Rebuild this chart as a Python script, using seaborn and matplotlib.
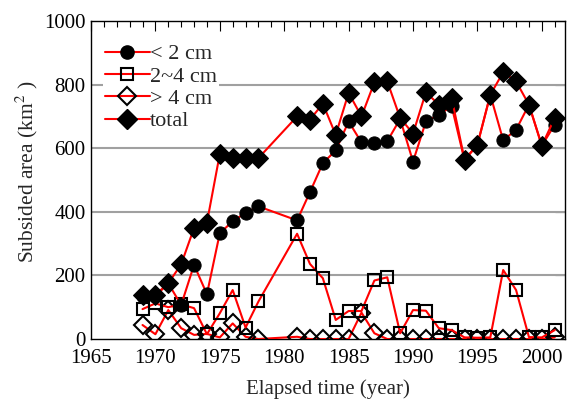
import numpy as np
import pandas as pd
import matplotlib
matplotlib.use("Agg")
import matplotlib.pyplot as plt
import seaborn as sns
from matplotlib.lines import Line2D

years = [1969, 1970, 1971, 1972, 1973, 1974, 1975, 1976, 1977, 1978,
         1981, 1982, 1983, 1984, 1985, 1986, 1987, 1988, 1989, 1990,
         1991, 1992, 1993, 1994, 1995, 1996, 1997, 1998, 1999, 2000, 2001]
lt2 = [135, 135, 175, 107, 233, 141, 333, 370, 397, 417,
       373, 462, 553, 593, 684, 618, 615, 622, 692, 558,
       684, 705, 732, 562, 611, 768, 625, 658, 737, 608, 674]
b2to4 = [94, 112, 100, 109, 97, 15, 81, 154, 36, 118,
         331, 236, 191, 60, 88, 88, 184, 194, 18, 91,
         89, 34, 28, 5, 4, 5, 217, 154, 6, 5, 28]
gt4 = [44, 15, 91, 34, 13, 16, 5, 49, 7, 0,
       7, 0, 0, 0, 0, 83, 18, 0, 0, 0,
       0, 0, 0, 0, 0, 0, 0, 0, 0, 0, 5]
total = [139, 139, 175, 235, 349, 366, 582, 569, 569, 569,
         700, 690, 740, 642, 774, 700, 807, 810, 695, 646,
         776, 737, 758, 564, 611, 768, 839, 810, 737, 608, 695]
series_names = ["< 2 cm", "2~4 cm", "> 4 cm", "total"]
yticks = [0, 200, 400, 600, 800, 1000]
xticks = [1965, 1970, 1975, 1980, 1985, 1990, 1995, 2000]

sns.set_theme(style="white")
plt.rcParams['font.family'] = ['Liberation Serif', 'DejaVu Serif']
plt.rcParams['mathtext.fontset'] = 'stix'

fig = plt.figure(figsize=(5.67, 4.01), dpi=100)
ax = fig.add_axes([0.1605, 0.1546, 0.836, 0.793])

df = pd.DataFrame({"year": years, "lt2": lt2, "b": b2to4, "g": gt4, "total": total})

styles = [
    ("g", dict(marker="D", markersize=9.5, markerfacecolor="none", markeredgecolor="black", markeredgewidth=1.5)),
    ("b", dict(marker="s", markersize=8.5, markerfacecolor="none", markeredgecolor="black", markeredgewidth=1.5)),
    ("lt2", dict(marker="o", markersize=9.5, markerfacecolor="black", markeredgecolor="black")),
    ("total", dict(marker="D", markersize=10.5, markerfacecolor="black", markeredgecolor="black")),
]
for col, st in styles:
    sns.lineplot(data=df, x="year", y=col, ax=ax, color="red", lw=1.5,
                 errorbar=None, legend=False, zorder=3, **st)

ax.set_xlim(1965, 2001.8)
ax.set_ylim(0, 1000)
ax.set_xticks(xticks)
ax.set_yticks(yticks)
ax.set_xticks(np.arange(1965, 2002, 1), minor=True)
for y in yticks[1:-1]:
    ax.axhline(y, color="#a0a0a0", lw=1.5, zorder=1)
ax.tick_params(axis="both", which="both", direction="in", top=True, right=True,
               labelsize=15, colors="black")
ax.tick_params(axis="both", which="major", length=7, width=0.8)
ax.tick_params(axis="x", which="minor", length=4, width=0.8)
ax.tick_params(axis="x", pad=7)
ax.tick_params(axis="y", pad=4)
for s in ax.spines.values():
    s.set_color("black")
    s.set_linewidth(1.0)
ax.set_xlabel("Elapsed time (year)", fontsize=15, labelpad=8)
ax.set_ylabel("Subsided area (km$^{2}$ )", fontsize=15.5)
ax.yaxis.set_label_coords(-0.107, 0.525)

handles = [
    Line2D([], [], color="red", lw=1.5, marker="o", markersize=9.5, markerfacecolor="black", markeredgecolor="black"),
    Line2D([], [], color="red", lw=1.5, marker="s", markersize=8.5, markerfacecolor="none", markeredgecolor="black", markeredgewidth=1.5),
    Line2D([], [], color="red", lw=1.5, marker="D", markersize=9.5, markerfacecolor="none", markeredgecolor="black", markeredgewidth=1.5),
    Line2D([], [], color="red", lw=1.5, marker="D", markersize=10.5, markerfacecolor="black", markeredgecolor="black"),
]
leg = ax.legend(handles, series_names, loc="upper left", bbox_to_anchor=(0.025, 0.935),
                frameon=True, fontsize=16, handlelength=2.0, handletextpad=0.0,
                labelspacing=0.08, borderpad=0.1, borderaxespad=0.0)
leg.get_frame().set_edgecolor("none")
leg.get_frame().set_facecolor("white")
leg.get_frame().set_alpha(1)
leg.set_zorder(2)

fig.savefig("out.png", dpi=100)
